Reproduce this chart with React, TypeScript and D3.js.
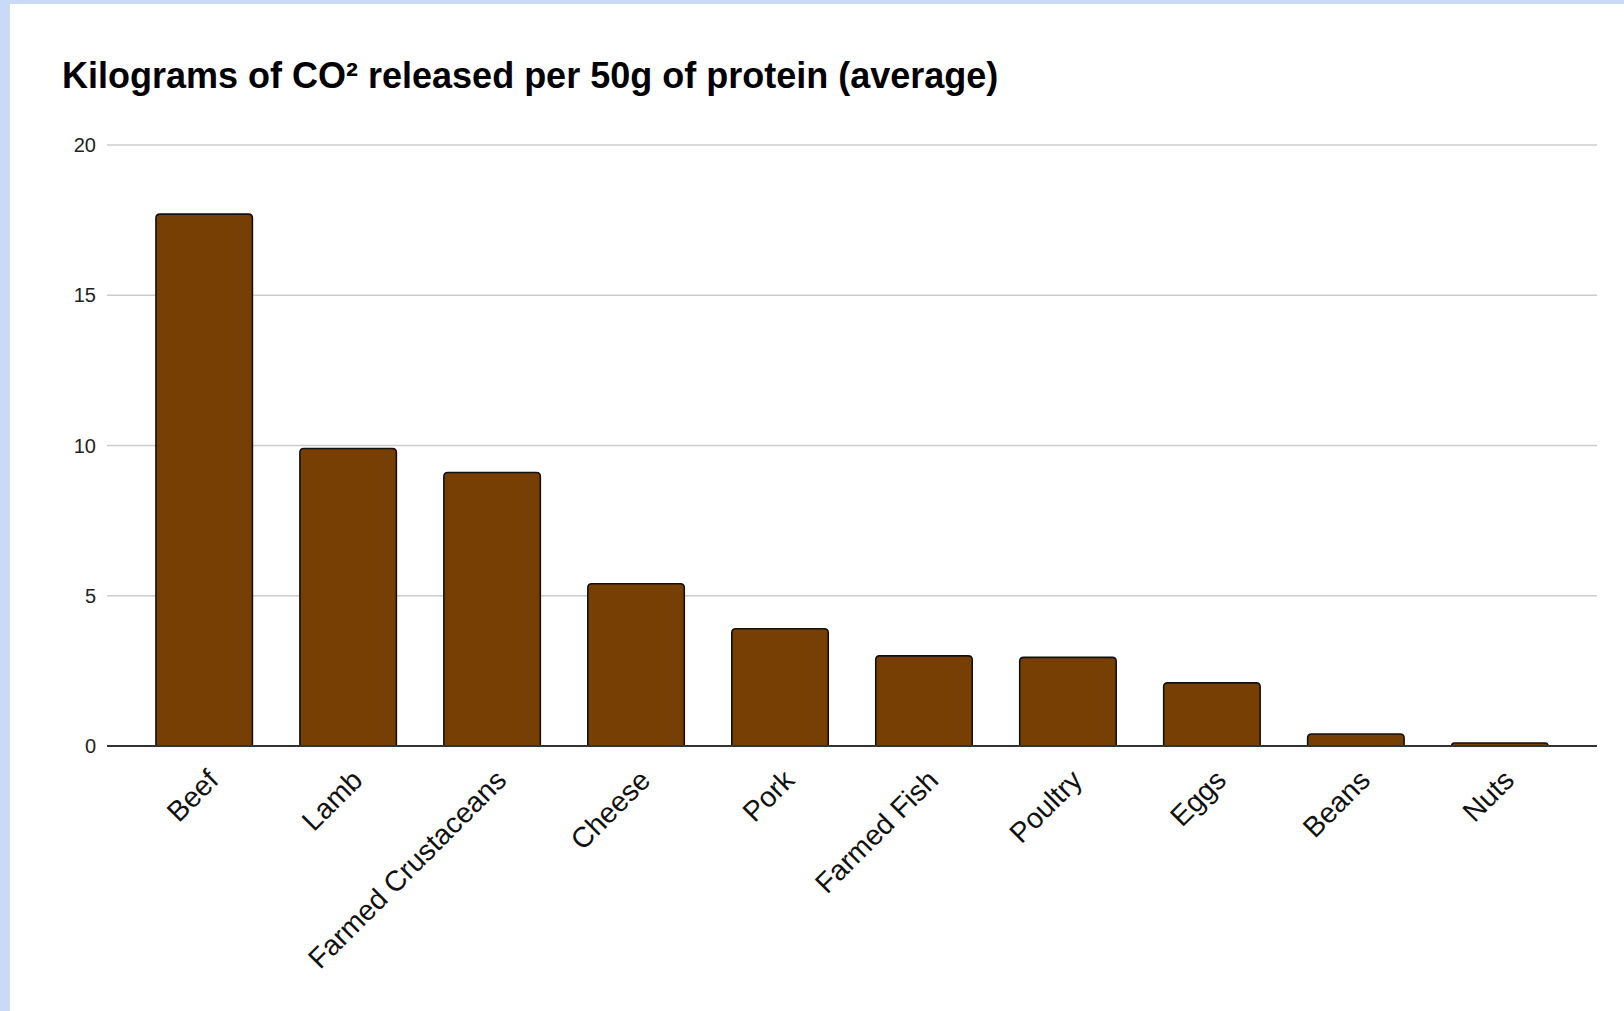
import { scaleBand, scaleLinear } from "d3";

const categories = [
  "Beef",
  "Lamb",
  "Farmed Crustaceans",
  "Cheese",
  "Pork",
  "Farmed Fish",
  "Poultry",
  "Eggs",
  "Beans",
  "Nuts",
];
const co2Values = [17.7, 9.9, 9.1, 5.4, 3.9, 3.0, 2.95, 2.1, 0.4, 0.1];
const yTicks = [0, 5, 10, 15, 20];
const title = "Kilograms of CO² released per 50g of protein (average)";

const W = 1624;
const H = 1011;
const FONT = "'Liberation Sans', Arial, sans-serif";

// top-rounded bar, square at the baseline
function barPath(x: number, y: number, w: number, h: number, r: number) {
  const rr = Math.min(r, h, w / 2);
  return `M${x},${y + h}V${y + rr}Q${x},${y} ${x + rr},${y}H${x + w - rr}Q${x + w},${y} ${x + w},${y + rr}V${y + h}Z`;
}

export default function App() {
  const x = scaleBand()
    .domain(categories)
    .range([107, 1597])
    .paddingInner(0.33)
    .paddingOuter(0.34);

  const y = scaleLinear().domain([0, 20]).range([746, 145]);

  return (
    <div style={{ position: "absolute", left: 0, top: 0 }}>
      <svg width={W} height={H} style={{ display: "block", fontFamily: FONT }}>
        <rect width={W} height={H} fill="#c9daf8" />
        <rect x={10} y={4} width={W - 10} height={H - 4} fill="#ffffff" />

        <text x={62} y={88} fontSize={36} fontWeight="bold" fill="#000">
          {title}
        </text>

        {/* gridlines */}
        {yTicks.filter((t) => t !== 0).map((t) => (
          <line key={t} x1={107} x2={1597} y1={y(t)} y2={y(t)} stroke="#cccccc" strokeWidth={1.5} />
        ))}

        {/* y tick labels */}
        {yTicks.map((t) => (
          <text key={t} x={96} y={y(t)} dy="0.35em" textAnchor="end" fontSize={20} fill="#222">
            {t}
          </text>
        ))}

        {/* bars */}
        {categories.map((c, i) => {
          const bx = x(c)!;
          const by = y(co2Values[i]);
          return (
            <path
              key={c}
              d={barPath(bx, by, x.bandwidth(), y(0) - by, 4)}
              fill="#783f04"
              stroke="#111"
              strokeWidth={1.6}
            />
          );
        })}

        {/* baseline */}
        <line x1={107} x2={1597} y1={y(0)} y2={y(0)} stroke="#333" strokeWidth={2} />

        {/* category labels */}
        {categories.map((c) => {
          const cx = x(c)! + x.bandwidth() / 2;
          return (
            <text
              key={c}
              transform={`translate(${cx + 16},${y(0) + 36}) rotate(-45)`}
              textAnchor="end"
              fontSize={28.5}
              fill="#111"
            >
              {c}
            </text>
          );
        })}
      </svg>
    </div>
  );
}
